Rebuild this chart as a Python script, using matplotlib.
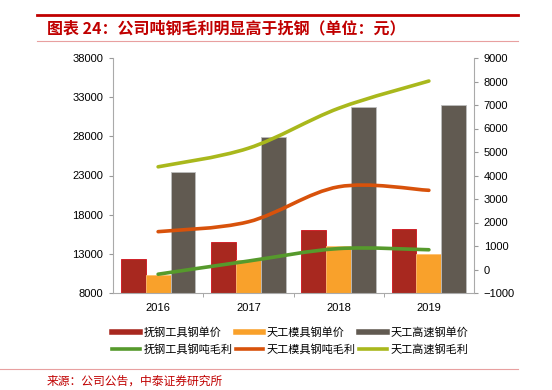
import numpy as np
import matplotlib.pyplot as plt
from matplotlib.path import Path
from matplotlib.patches import PathPatch
from matplotlib.lines import Line2D

plt.rcParams['font.family'] = ['Liberation Sans', 'Noto Sans CJK SC', 'DejaVu Sans']

# Dados
anos = ['2016', '2017', '2018', '2019']
fg_preco = [12300, 14500, 16000, 16200]      # 抚钢工具钢单价
tg_mj_preco = [10300, 12200, 14000, 13000]   # 天工模具钢单价
tg_gs_preco = [23500, 27900, 31800, 32000]   # 天工高速钢单价
fg_lucro = [-200, 360, 890, 840]             # 抚钢工具钢吨毛利
tg_mj_lucro = [1610, 2030, 3520, 3370]       # 天工模具钢吨毛利
tg_gs_lucro = [4370, 5160, 6860, 8020]       # 天工高速钢毛利

c_vermelho = '#A8281F'
c_laranja = '#F9A12B'
c_cinza = '#615A51'
c_verde = '#569A2C'
c_laranja2 = '#D8520B'
c_amarelo = '#A9B81C'
c_titulo = '#C00000'


def curva(ax, xs, ys, cor):
	# linha suavizada tipo Excel (bezier)
	P = np.column_stack([xs, ys]).astype(float)
	n = len(P)
	verts = [P[0]]
	codes = [Path.MOVETO]
	for i in range(n - 1):
		p0 = P[i - 1] if i > 0 else P[i]
		p3 = P[i + 2] if i + 2 < n else P[i + 1]
		c1 = P[i] + (P[i + 1] - p0) / 6.
		c2 = P[i + 1] - (p3 - P[i]) / 6.
		verts += [c1, c2, P[i + 1]]
		codes += [Path.CURVE4] * 3
	ax.add_patch(PathPatch(Path(verts, codes), fc='none', ec=cor, lw=2.6,
						   capstyle='round', zorder=5))


fig = plt.figure(figsize=(5.52, 3.9), dpi=100)
ax = fig.add_axes([113/552, 1 - 293/390, 361/552, 235/390])

x = np.arange(len(anos))
w = 0.275
ax.bar(x - w, fg_preco, w, color=c_vermelho, edgecolor='#D0101A', lw=0.6)
ax.bar(x, tg_mj_preco, w, color=c_laranja, edgecolor='#FFC070', lw=0.6)
ax.bar(x + w, tg_gs_preco, w, color=c_cinza, edgecolor='#BDBDBD', lw=0.6)

ax.set_xlim(-0.5, 3.5)
ax.set_ylim(8000, 38000)
ax.set_yticks(np.arange(8000, 38001, 5000))
ax.set_xticks(x)
ax.set_xticklabels(anos)
ax.set_xticks([0.5, 1.5, 2.5], minor=True)
ax.tick_params(axis='x', which='major', length=0, pad=7, labelsize=8)
ax.tick_params(axis='x', which='minor', length=3, color='#999999')
ax.tick_params(axis='y', length=3, color='#999999', labelsize=8, pad=4)
for s in ['top', 'right']:
	ax.spines[s].set_visible(False)
ax.spines['left'].set_color('#AAAAAA')
ax.spines['bottom'].set_color('#AAAAAA')

ax2 = ax.twinx()
ax2.set_ylim(-1000, 9000)
ax2.set_yticks(np.arange(-1000, 9001, 1000))
ax2.tick_params(axis='y', length=3, color='#999999', labelsize=8, pad=4)
for s in ['top', 'left', 'bottom']:
	ax2.spines[s].set_visible(False)
ax2.spines['right'].set_color('#AAAAAA')

curva(ax2, x, fg_lucro, c_verde)
curva(ax2, x, tg_mj_lucro, c_laranja2)
curva(ax2, x, tg_gs_lucro, c_amarelo)

# Legenda (ordem por colunas)
h = [Line2D([], [], color=c_vermelho, lw=4),
	 Line2D([], [], color=c_verde, lw=2.6),
	 Line2D([], [], color=c_laranja, lw=4),
	 Line2D([], [], color=c_laranja2, lw=2.6),
	 Line2D([], [], color=c_cinza, lw=4),
	 Line2D([], [], color=c_amarelo, lw=2.6)]
lab = ['抚钢工具钢单价', '抚钢工具钢吨毛利', '天工模具钢单价',
	   '天工模具钢吨毛利', '天工高速钢单价', '天工高速钢毛利']
fig.legend(h, lab, ncol=3, loc='center', bbox_to_anchor=(290/552, 1 - 341/390),
		   frameon=False, handlelength=2.5, handletextpad=0.3,
		   columnspacing=0.3, labelspacing=0.5,
		   prop={'family': ['Noto Sans CJK SC', 'DejaVu Sans'], 'size': 8})

# Titulo e linhas
fig.add_artist(Line2D([37/552, 518/552], [1 - 14.5/390] * 2, color=c_titulo, lw=2))
fig.add_artist(Line2D([37/552, 518/552], [1 - 41/390] * 2, color='#E8A0A0', lw=0.8))
fig.add_artist(Line2D([0, 518/552], [1 - 369/390] * 2, color='#E8A0A0', lw=0.8))
fig.text(47/552, 1 - 28/390, '图表 24：公司吨钢毛利明显高于抚钢（单位：元）', color=c_titulo,
		 fontsize=11.5, fontweight='bold', style='italic', va='center', ha='left',
		 family=['Noto Sans CJK SC', 'DejaVu Sans'])
fig.text(47/552, 1 - 381/390, '来源：公司公告，中泰证券研究所', color=c_titulo,
		 fontsize=8.5, va='center', ha='left', family=['Noto Sans CJK SC', 'DejaVu Sans'])

plt.savefig('out.png', dpi=100)
